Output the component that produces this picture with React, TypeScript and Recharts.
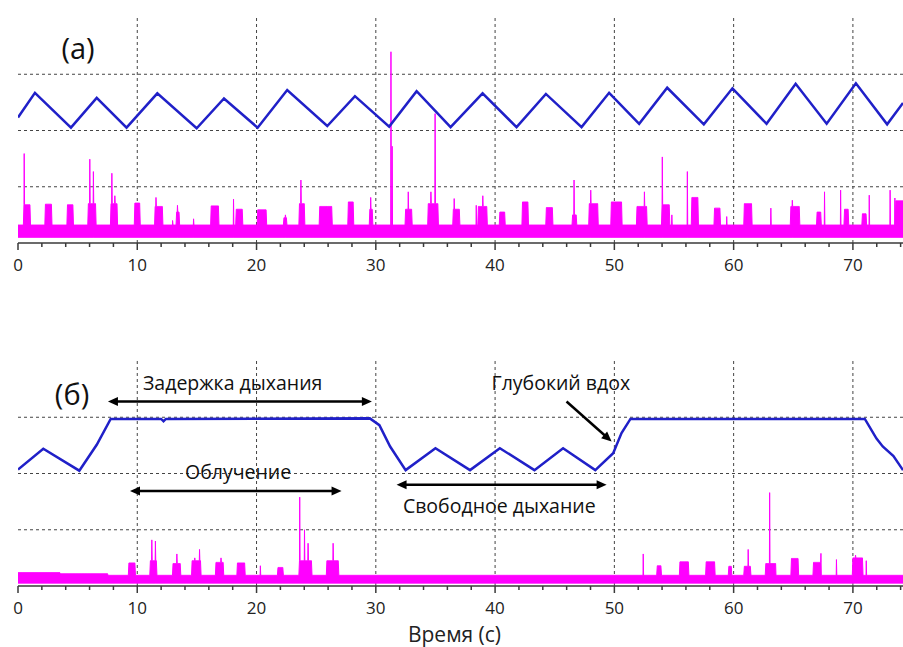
import React from 'react'
import { Area, CartesianGrid, ComposedChart, Line, ReferenceDot, ReferenceLine, XAxis, YAxis } from 'recharts'

const T_MAX = 74.2
const xMinorTicks = [0, 2, 4, 6, 8, 10, 12, 14, 16, 18, 20, 22, 24, 26, 28, 30, 32, 34, 36, 38, 40, 42, 44, 46, 48, 50, 52, 54, 56, 58, 60, 62, 64, 66, 68, 70, 72, 74]
const gridX = [10, 20, 30, 40, 50, 60, 70]
const yTicks = [0, 1, 2, 3, 4]
const gridY = [1, 2, 3]

// (a) free breathing: vertices of the blue trace
const breathATime = [0, 1.42, 4.44, 6.6, 9.1, 11.68, 14.98, 17.27, 20.09, 22.57, 25.93, 28.25, 31.12, 33.42, 36.27, 38.95, 41.8, 44.26, 47.25, 49.56, 52.08, 54.43, 57.5, 59.9, 62.76, 65.2, 67.8, 70.25, 72.87, 74.2]
const breathAValue = [2.23, 2.67, 2.05, 2.58, 2.05, 2.66, 2.04, 2.57, 2.05, 2.72, 2.08, 2.61, 2.07, 2.7, 2.06, 2.66, 2.06, 2.65, 2.06, 2.67, 2.12, 2.76, 2.11, 2.75, 2.12, 2.83, 2.12, 2.84, 2.11, 2.49]

// (a) detector signal: noise floor [low, high], bursts [start, end, level], spikes [t, height]
const pulseAFloor: [number, number] = [0.1, 0.32]
const pulseABursts = [
  [0.5, 1.0, 0.68], [2.3, 2.8, 0.69], [4.15, 4.6, 0.68], [5.9, 6.5, 0.7], [7.8, 8.3, 0.7], [9.8, 10.2, 0.71],
  [11.5, 12.1, 0.65], [13.3, 13.5, 0.55], [16.2, 16.8, 0.66], [18.3, 18.8, 0.6], [20.1, 20.8, 0.59], [22.3, 22.5, 0.45],
  [23.6, 24.0, 0.7], [25.3, 26.3, 0.65], [27.7, 28.1, 0.73], [29.5, 29.7, 0.6], [32.5, 33.0, 0.6], [34.4, 35.2, 0.7],
  [36.5, 37.0, 0.6], [38.6, 39.3, 0.65], [40.4, 40.8, 0.55], [42.3, 42.75, 0.73], [44.3, 44.8, 0.63], [46.5, 46.8, 0.5],
  [47.9, 48.6, 0.7], [49.75, 50.6, 0.73], [51.9, 52.7, 0.65], [54.0, 54.6, 0.68], [56.5, 57.0, 0.81], [58.4, 58.85, 0.62],
  [60.9, 61.5, 0.7], [64.8, 65.5, 0.65], [67.0, 67.3, 0.55], [69.3, 69.6, 0.6], [70.8, 71.1, 0.52], [73.6, 74.2, 0.75],
]
const pulseASpikes = [
  [0.52, 1.59], [6.02, 1.49], [6.32, 1.27], [7.87, 1.24], [8.12, 0.84], [11.57, 0.81], [12.96, 0.4], [13.37, 0.67],
  [14.72, 0.43], [18.07, 0.78], [22.42, 0.5], [23.72, 1.12], [25.92, 0.6], [29.57, 0.81], [31.27, 3.4], [31.37, 1.72],
  [32.72, 0.91], [34.62, 0.91], [34.97, 2.3], [36.57, 0.79], [38.42, 0.67], [38.97, 0.84], [46.62, 1.12], [48.02, 0.94],
  [52.52, 0.91], [54.02, 1.53], [54.82, 0.5], [56.12, 1.27], [59.42, 0.47], [63.12, 0.62], [64.92, 0.76], [67.62, 0.91],
  [68.97, 0.94], [71.37, 0.85], [73.12, 0.94], [73.52, 0.8],
]

// (б) breath hold / free breathing / deep inhale
const breathBTime = [0, 2.12, 5.14, 6.6, 7.77, 12.0, 12.2, 12.4, 29.5, 30.3, 31.2, 32.5, 35.0, 37.9, 40.4, 43.3, 45.7, 48.4, 49.9, 50.6, 51.35, 71.0, 71.98, 72.5, 73.4, 74.2]
const breathBValue = [2.07, 2.44, 2.05, 2.51, 2.97, 2.97, 2.93, 2.97, 2.98, 2.86, 2.48, 2.06, 2.45, 2.06, 2.45, 2.06, 2.45, 2.06, 2.36, 2.72, 2.97, 2.97, 2.62, 2.48, 2.31, 2.06]

const pulseBFloor: [number, number] = [0.05, 0.19]
const pulseBBursts = [
  [0, 3.5, 0.24], [3.5, 7.5, 0.22], [9.3, 9.8, 0.41], [11.1, 11.6, 0.45], [13.0, 13.6, 0.4], [14.6, 15.3, 0.45], [16.6, 17.2, 0.42],
  [18.4, 19.0, 0.41], [21.8, 22.2, 0.33], [23.6, 24.6, 0.45], [25.9, 26.85, 0.45], [53.6, 53.9, 0.36], [55.5, 56.2, 0.43],
  [57.7, 58.4, 0.43], [59.6, 59.8, 0.35], [60.9, 61.4, 0.35], [62.7, 63.5, 0.4], [64.85, 65.4, 0.49], [66.7, 67.3, 0.42],
  [70.0, 70.8, 0.5],
]
const pulseBSpikes = [
  [11.22, 0.82], [11.52, 0.8], [13.32, 0.57], [14.82, 0.5], [15.22, 0.65], [17.02, 0.5], [20.32, 0.36], [23.62, 1.58],
  [24.02, 1.0], [24.32, 0.76], [26.42, 0.76], [52.42, 0.57], [61.22, 0.65], [63.02, 1.66], [63.52, 0.4], [67.32, 0.58],
  [68.62, 0.47], [70.22, 0.55], [71.12, 0.45],
]

function buildPulse(floor: [number, number], bursts: number[][], spikes: number[][]) {
  const pts: { t: number; band: [number, number] }[] = []
  const step = 0.05
  for (let i = 0; i * step <= T_MAX + 1e-9; i++) {
    const t = Math.round(i * step * 100) / 100
    let hi = floor[1]
    for (const [s, e, l] of bursts) if (t >= s && t <= e) hi = Math.max(hi, l)
    pts.push({ t, band: [floor[0], hi] })
  }
  for (const [t, h] of spikes) pts.push({ t, band: [floor[0], h] })
  pts.sort((a, b) => a.t - b.t)
  return pts
}

const toLine = (ts: number[], vs: number[]) => ts.map((t, i) => ({ t, v: vs[i] }))

const pulseA = buildPulse(pulseAFloor, pulseABursts, pulseASpikes)
const pulseB = buildPulse(pulseBFloor, pulseBBursts, pulseBSpikes)
const breathA = toLine(breathATime, breathAValue)
const breathB = toLine(breathBTime, breathBValue)

const AXIS = '#3a3a3a'
const BLUE = '#2020c8'
const MAGENTA = '#ff00ff'
const NOTE_SIZE = 19.5

function TimeTick({ x, y, payload }: any) {
  const major = payload.value % 10 === 0
  return (
    <g>
      <line x1={x} x2={x} y1={y} y2={y + (major ? 7 : 4)} stroke={AXIS} strokeWidth={1.5} />
      {major && (
        <text x={x} y={y + 28} textAnchor="middle" fontSize={17} fill="#222">
          {payload.value}
        </text>
      )}
    </g>
  )
}

function arrowShape(both: boolean) {
  return (p: any) => {
    const { x1, y1, x2, y2 } = p
    const a = Math.atan2(y2 - y1, x2 - x1)
    const L = 10
    const W = 4.5
    const head = (x: number, y: number, ang: number) => {
      const bx = x - L * Math.cos(ang)
      const by = y - L * Math.sin(ang)
      return `${x},${y} ${bx + W * Math.sin(ang)},${by - W * Math.cos(ang)} ${bx - W * Math.sin(ang)},${by + W * Math.cos(ang)}`
    }
    const sx = both ? x1 + (L - 1) * Math.cos(a) : x1
    const sy = both ? y1 + (L - 1) * Math.sin(a) : y1
    return (
      <g>
        <line x1={sx} y1={sy} x2={x2 - (L - 1) * Math.cos(a)} y2={y2 - (L - 1) * Math.sin(a)} stroke="#000" strokeWidth={2.5} />
        <polygon points={head(x2, y2, a)} fill="#000" />
        {both && <polygon points={head(x1, y1, a + Math.PI)} fill="#000" />}
      </g>
    )
  }
}

function noteShape(text: string, size: number, anchor: 'start' | 'middle') {
  return (p: any) => (
    <text x={p.cx} y={p.cy} textAnchor={anchor} dominantBaseline="central" fontSize={size} fill="#111">
      {text}
    </text>
  )
}

function Panel({ pulse, breath, height, xHeight, children, xLabel }: any) {
  return (
    <ComposedChart width={903} height={height} margin={{ top: 18, right: 0, bottom: 0, left: 18 }}>
      <CartesianGrid stroke="#444" strokeDasharray="3 3" horizontalValues={gridY} verticalValues={gridX} />
      <XAxis
        dataKey="t"
        type="number"
        domain={[0, T_MAX]}
        ticks={xMinorTicks}
        interval={0}
        tickSize={0}
        tickMargin={0}
        tickLine={false}
        tick={(p: any) => <TimeTick {...p} />}
        height={xHeight}
        stroke={AXIS}
        strokeWidth={1.5}
        allowDataOverflow
        label={xLabel ? { value: xLabel, position: 'insideBottom', offset: 5.5, dx: -6, fontSize: 21, fill: '#222' } : undefined}
      />
      <YAxis
        type="number"
        domain={[0, 4]}
        ticks={yTicks}
        width={0}
        tickSize={6}
        tickFormatter={() => ''}
        stroke={AXIS}
        strokeWidth={1.5}
      />
      <Area
        data={pulse}
        dataKey="band"
        type="linear"
        stroke={MAGENTA}
        strokeWidth={1}
        fill={MAGENTA}
        fillOpacity={1}
        isAnimationActive={false}
        dot={false}
        activeDot={false}
      />
      <Line
        data={breath}
        dataKey="v"
        type="linear"
        stroke={BLUE}
        strokeWidth={2.5}
        dot={false}
        activeDot={false}
        isAnimationActive={false}
      />
      {children}
    </ComposedChart>
  )
}

export default function App() {
  return (
    <div style={{ position: 'absolute', left: 0, top: 0, width: 903, height: 647, background: '#fff', fontFamily: "'Open Sans', sans-serif" }}>
      <div style={{ position: 'absolute', left: 0, top: 0 }}>
        <Panel pulse={pulseA} breath={breathA} height={290} xHeight={47}>
          <ReferenceDot x={5.03} y={3.48} r={0} shape={noteShape('(a)', 29, 'middle')} />
        </Panel>
      </div>
      <div style={{ position: 'absolute', left: 0, top: 343 }}>
        <Panel pulse={pulseB} breath={breathB} height={304} xHeight={61} xLabel="Время (с)">
          <ReferenceDot x={4.53} y={3.43} r={0} shape={noteShape('(б)', 29, 'middle')} />
          <ReferenceDot x={10.48} y={3.61} r={0} shape={noteShape('Задержка дыхания', NOTE_SIZE, 'start')} />
          <ReferenceLine segment={[{ x: 7.54, y: 3.28 }, { x: 29.67, y: 3.28 }]} shape={arrowShape(true)} />
          <ReferenceDot x={14.0} y={2.03} r={0} shape={noteShape('Облучение', NOTE_SIZE, 'start')} />
          <ReferenceLine segment={[{ x: 9.39, y: 1.69 }, { x: 27.13, y: 1.69 }]} shape={arrowShape(true)} />
          <ReferenceDot x={39.7} y={3.61} r={0} shape={noteShape('Глубокий вдох', NOTE_SIZE, 'start')} />
          <ReferenceLine segment={[{ x: 45.99, y: 3.28 }, { x: 49.77, y: 2.57 }]} shape={arrowShape(false)} />
          <ReferenceDot x={32.27} y={1.44} r={0} shape={noteShape('Свободное дыхание', NOTE_SIZE, 'start')} />
          <ReferenceLine segment={[{ x: 31.74, y: 1.8 }, { x: 49.35, y: 1.8 }]} shape={arrowShape(true)} />
        </Panel>
      </div>
    </div>
  )
}
